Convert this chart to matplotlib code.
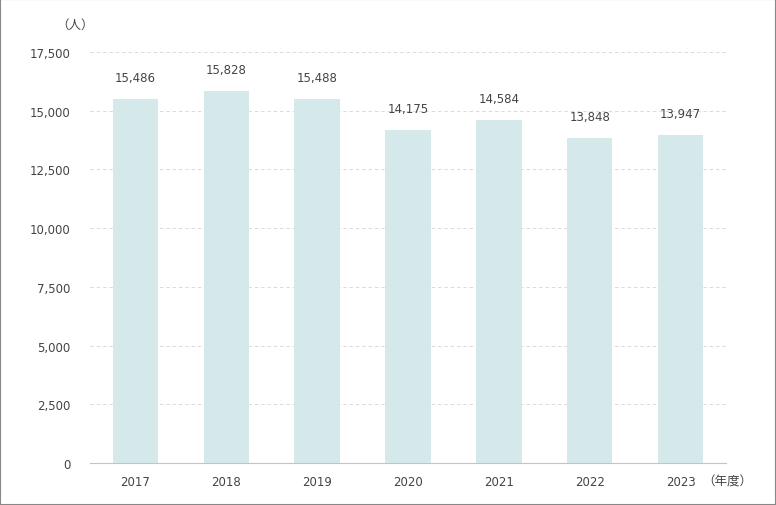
import matplotlib
matplotlib.use("Agg")
import matplotlib.pyplot as plt
from matplotlib.patches import Rectangle

plt.rcParams['font.family'] = ['DejaVu Sans', 'Noto Sans CJK JP']

years = ["2017", "2018", "2019", "2020", "2021", "2022", "2023"]
people = [15486, 15828, 15488, 14175, 14584, 13848, 13947]
yticks = [0, 2500, 5000, 7500, 10000, 12500, 15000, 17500]

text_color = "#444444"
cjk = ['Noto Sans CJK JP', 'DejaVu Sans']

fig = plt.figure(figsize=(7.76, 5.06), dpi=100)
ax = fig.add_axes([90 / 776, 42 / 506, 636 / 776, 411 / 506])

x = range(len(years))
ax.bar(x, people, width=0.5, color="#d5e9eb", zorder=2)

for i, v in enumerate(people):
    ax.text(i, v + 650, f"{v:,}", ha="center", va="bottom", fontsize=8.5, color=text_color)

ax.set_xlim(-0.5, len(years) - 0.5)
ax.set_ylim(0, 17500)
ax.set_yticks(yticks)
ax.set_yticklabels([f"{t:,}" for t in yticks])
ax.set_xticks(list(x))
ax.set_xticklabels(years)

for t in yticks[1:]:
    ax.axhline(t, color="#dadada", linewidth=0.7, linestyle=(0, (3.5, 3)), zorder=1)

for s in ["top", "right", "left"]:
    ax.spines[s].set_visible(False)
ax.spines["bottom"].set_color("#c4c4c4")
ax.tick_params(axis="both", length=0, labelsize=8.5, colors=text_color)
ax.tick_params(axis="y", pad=14)
ax.tick_params(axis="x", pad=9)

fig.text(75 / 776, 1 - 25 / 506, "（人）", ha="center", va="center", fontsize=9,
         color=text_color, family=cjk)
fig.text(702 / 776, 1 - 482 / 506, "（年度）", ha="left", va="center", fontsize=9,
         color=text_color, family=cjk)

fig.patches.append(Rectangle((0, 0), 1, 1, transform=fig.transFigure, fill=False,
                             edgecolor="#888888", linewidth=1.5))

fig.savefig("out.png", dpi=100)
